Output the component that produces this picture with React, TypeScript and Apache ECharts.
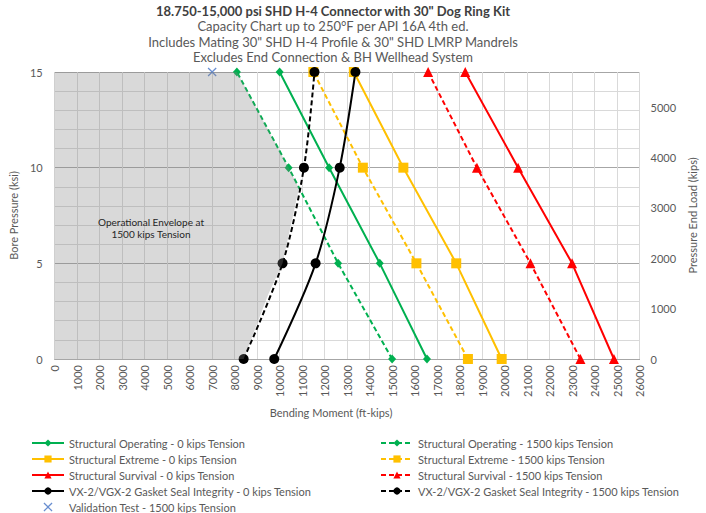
import React, { useEffect, useRef } from "react";
import * as echarts from "echarts";

// Bore pressure levels (ksi) shared by every capacity curve
const pressures = [0, 5, 10, 15];
// Bending moment (ft-kips) at each pressure level
const structOp0 = [16550, 14450, 12200, 10000];
const structOp1500 = [15000, 12600, 10400, 8100];
const structExt0 = [19870, 17850, 15500, 13300];
const structExt1500 = [18370, 16080, 13700, 11500];
const structSurv0 = [24860, 23000, 20600, 18250];
const structSurv1500 = [23370, 21150, 18770, 16600];
const seal0 = [9760, 11600, 12670, 13370];
const seal1500 = [8400, 10130, 11080, 11550];
const validationTest = [[7000, 15]];
// Operational envelope outline (moment, pressure)
const envelope = [
  [0, 0], [0, 15], [8100, 15], [10400, 10], [10860, 8.92],
  [10130, 5], [9500, 3.4], [8950, 1.7], [8400, 0],
];

const titleLines = [
  "18.750-15,000 psi SHD H-4 Connector with 30\" Dog Ring Kit",
  "Capacity Chart up to 250°F per API 16A 4th ed.",
  "Includes Mating 30\" SHD H-4 Profile & 30\" SHD LMRP Mandrels",
  "Excludes End Connection & BH Wellhead System",
];

const FONT = "Lato, 'Liberation Sans', sans-serif";
const GRAY = "#595959";
const X_PATH =
  "path://M1,0 L5,4 L9,0 L10,1 L6,5 L10,9 L9,10 L5,6 L1,10 L0,9 L4,5 L0,1 Z";

export default function App() {
  const ref = useRef<HTMLDivElement>(null);
  useEffect(() => {
    document.body.style.margin = "0";
    const chart = echarts.init(ref.current!, null, { renderer: "svg" });
    const line = (
      name: string,
      xs: number[],
      color: string,
      symbol: string,
      size: number | number[],
      dashed: boolean,
      smooth: boolean | number = false
    ) => ({
      name,
      type: "line",
      data: xs.map((x, i) => [x, pressures[i]]),
      symbol,
      symbolSize: size,
      smooth,
      lineStyle: { color, width: 2, type: dashed ? [5, 3] : "solid" },
      itemStyle: { color },
      z: 3,
    });
    const n = {
      so0: "Structural Operating - 0 kips Tension",
      so1: "Structural Operating - 1500 kips Tension",
      se0: "Structural Extreme - 0 kips Tension",
      se1: "Structural Extreme - 1500 kips Tension",
      ss0: "Structural Survival - 0 kips Tension",
      ss1: "Structural Survival - 1500 kips Tension",
      vx0: "VX-2/VGX-2 Gasket Seal Integrity - 0 kips Tension",
      vx1: "VX-2/VGX-2 Gasket Seal Integrity - 1500 kips Tension",
      val: "Validation Test - 1500 kips Tension",
    };
    const legendCommon = {
      orient: "vertical",
      top: 436,
      padding: 0,
      itemGap: 2,
      itemWidth: 32,
      itemHeight: 9,
      height: 100,
      textStyle: { fontSize: 11, color: GRAY, fontFamily: FONT, lineHeight: 14 },
      selectedMode: false,
    };
    const plain = (v: number) => String(v);
    chart.setOption({
      animation: false,
      textStyle: { fontFamily: FONT },
      grid: { left: 52, right: 64, top: 72, bottom: 154, containLabel: false },
      legend: [
        { ...legendCommon, left: 31, data: [n.so0, n.se0, n.ss0, n.vx0, n.val] },
        { ...legendCommon, left: 380, data: [n.so1, n.se1, n.ss1, n.vx1] },
      ],
      graphic: [
        ...titleLines.map((t, i) => ({
          type: "text",
          x: 333,
          y: [11, 26, 42, 57][i],
          style: {
            text: t,
            fontFamily: FONT,
            fontSize: 13,
            fontWeight: i === 0 ? "bold" : "normal",
            fill: i === 0 ? "#404040" : GRAY,
            textAlign: "center",
            textVerticalAlign: "middle",
          },
        })),
        {
          type: "text",
          x: 151,
          y: 228,
          z: 20,
          style: {
            text: "Operational Envelope at\n1500 kips Tension",
            fontFamily: FONT,
            fontSize: 10,
            lineHeight: 12,
            fill: "#262626",
            textAlign: "center",
            textVerticalAlign: "middle",
          },
        },
        {
          type: "text",
          x: 331,
          y: 412,
          style: {
            text: "Bending Moment (ft-kips)",
            fontFamily: FONT,
            fontSize: 11,
            fill: GRAY,
            textAlign: "center",
            textVerticalAlign: "middle",
          },
        },
      ],
      xAxis: {
        type: "value",
        min: 0,
        max: 26000,
        interval: 1000,
        axisLine: { show: true, lineStyle: { color: "#a6a6a6" } },
        axisTick: { show: false },
        axisLabel: { rotate: 90, fontSize: 11, color: GRAY, margin: 6, formatter: plain },
        splitLine: { show: true, lineStyle: { color: "#d9d9d9" } },
      },
      yAxis: [
        {
          type: "value",
          min: 0,
          max: 15,
          interval: 5,
          name: "Bore Pressure (ksi)",
          nameLocation: "middle",
          nameGap: 23,
          nameTextStyle: { color: GRAY, fontSize: 11 },
          axisLine: { show: false },
          axisTick: { show: false },
          axisLabel: { fontSize: 11, color: GRAY, margin: 12, formatter: plain },
          splitLine: { show: true, lineStyle: { color: "#a6a6a6" } },
          minorTick: { show: false, splitNumber: 5 },
          minorSplitLine: { show: true, lineStyle: { color: "#d9d9d9" } },
        },
        {
          type: "value",
          position: "right",
          min: 0,
          max: 5700,
          interval: 1000,
          name: "Pressure End Load (kips)",
          nameLocation: "middle",
          nameGap: 40,
          nameTextStyle: { color: GRAY, fontSize: 11 },
          axisLine: { show: false },
          axisTick: { show: false },
          axisLabel: {
            fontSize: 11,
            color: GRAY,
            margin: 11,
            showMaxLabel: false,
            formatter: plain,
          },
          splitLine: { show: false },
        },
      ],
      series: [
        line(n.so0, structOp0, "#00b050", "diamond", [8, 9], false),
        line(n.so1, structOp1500, "#00b050", "diamond", [8, 9], true),
        line(n.se0, structExt0, "#ffc000", "rect", 10, false),
        line(n.se1, structExt1500, "#ffc000", "rect", 10, true),
        line(n.ss0, structSurv0, "#ff0000", "triangle", 10, false),
        line(n.ss1, structSurv1500, "#ff0000", "triangle", 10, true),
        line(n.vx0, seal0, "#000000", "circle", 10, false, 0.3),
        line(n.vx1, seal1500, "#000000", "circle", 10, true, 0.3),
        {
          name: n.val,
          type: "scatter",
          data: validationTest,
          symbol: X_PATH,
          symbolSize: 9,
          itemStyle: { color: "#4472c4" },
          z: 4,
        },
        {
          type: "custom",
          name: "envelope",
          data: envelope,
          z: 10,
          silent: true,
          encode: { x: 0, y: 1 },
          renderItem: (params: any, api: any) => {
            if (params.dataIndex !== 0) return null;
            const pts = envelope.map((p) => api.coord(p));
            return {
              type: "polygon",
              shape: { points: pts },
              style: { fill: "rgba(128,128,128,0.3)" },
            };
          },
        },
      ],
    });
    return () => chart.dispose();
  }, []);
  return <div ref={ref} style={{ width: 706, height: 513 }} />;
}
